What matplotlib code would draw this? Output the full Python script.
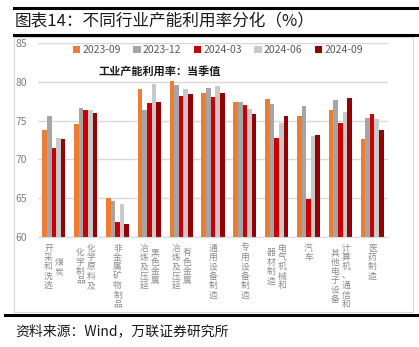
import matplotlib.pyplot as plt
import matplotlib.transforms as mtransforms
from matplotlib.patches import Rectangle
from matplotlib.lines import Line2D
import numpy as np

plt.rcParams['font.family'] = ['Noto Sans CJK SC', 'DejaVu Sans']

# Data
categories = [
    ["煤炭", "开采和洗选"],
    ["化学原料及", "化学制品"],
    ["非金属矿物制品"],
    ["黑色金属", "冶炼及压延"],
    ["有色金属", "冶炼及压延"],
    ["通用设备制造"],
    ["专用设备制造"],
    ["电气机械和", "器材制造"],
    ["汽车"],
    ["计算机、通信和", "其他电子设备"],
    ["医药制造"],
]
series_names = ["2023-09", "2023-12", "2024-03", "2024-06", "2024-09"]
v_2023_09 = [73.8, 74.6, 65.0, 79.1, 80.1, 78.6, 77.4, 77.8, 75.6, 76.4, 72.6]
v_2023_12 = [75.6, 76.6, 64.6, 76.4, 79.6, 79.2, 77.4, 77.1, 76.9, 77.6, 75.3]
v_2024_03 = [71.5, 76.4, 61.9, 77.3, 78.2, 78.1, 77.0, 72.7, 64.9, 74.7, 75.9]
v_2024_06 = [72.8, 76.4, 64.2, 79.7, 79.1, 79.4, 76.5, 74.7, 73.0, 76.1, 75.2]
v_2024_09 = [72.6, 76.0, 61.7, 77.4, 78.4, 78.6, 75.8, 75.6, 73.2, 77.9, 73.8]
values = [v_2023_09, v_2023_12, v_2024_03, v_2024_06, v_2024_09]
colors = ["#ED7D31", "#A5A5A5", "#CC0000", "#C9C9C9", "#960000"]

fig = plt.figure(figsize=(4.19, 3.47), dpi=100)
W, H = 419, 347

def fx(px):
    return px / W

def fy(py):
    return 1 - py / H

# Title and black rules
fig.add_artist(Line2D([fx(14), 1], [fy(8), fy(8)], color="black", lw=2.2))
fig.add_artist(Line2D([fx(14), 1], [fy(35), fy(35)], color="black", lw=2.2))
fig.add_artist(Line2D([fx(5), 1], [fy(315), fy(315)], color="black", lw=2.2))
fig.text(fx(15), fy(22), "图表14：不同行业产能利用率分化（%）", fontsize=12,
         va="center", ha="left", color="#1a1a1a")
fig.text(fx(15), fy(331), "资料来源：Wind，万联证券研究所", fontsize=10,
         va="center", ha="left", style="italic", color="#1a1a1a")

# chart frame
fig.add_artist(Rectangle((fx(14), fy(312)), fx(413) - fx(14), fy(37) - fy(312),
                         transform=fig.transFigure, fill=False, edgecolor="#D9D9D9", lw=0.8))

ax = fig.add_axes([fx(38), fy(237), fx(388) - fx(38), fy(43) - fy(237)])
x = np.arange(len(categories))
w = 0.145
for j, (name, vals, c) in enumerate(zip(series_names, values, colors)):
    ax.bar(x + (j - 2) * w, np.array(vals) - 60, width=w, bottom=60, color=c,
           label=name, zorder=3)

ax.set_ylim(60, 85)
ax.set_xlim(-0.5, len(categories) - 0.5)
ax.set_yticks([60, 65, 70, 75, 80, 85])
ax.set_xticks([])
ax.tick_params(axis="y", length=0, pad=8, labelsize=7.5, labelcolor="#7F7F7F")
ax.yaxis.grid(True, color="#D9D9D9", lw=1, zorder=0)
for s in ["top", "right", "left"]:
    ax.spines[s].set_visible(False)
ax.spines["bottom"].set_color("#D9D9D9")
ax.spines["bottom"].set_zorder(4)

ax.legend(loc="center", bbox_to_anchor=(0.514, 0.964), ncol=5, frameon=False,
          fontsize=7.5, labelcolor="#595959", handlelength=0.7, handleheight=0.7,
          handletextpad=0.2, columnspacing=1.2, borderaxespad=0)
ax.text(0.349, 0.856, "工业产能利用率：当季值", transform=ax.transAxes,
        ha="center", va="center", fontsize=8, fontweight="bold", color="#1a1a1a")

# vertical stacked category labels (first column on the right)
trans = mtransforms.blended_transform_factory(ax.transData, ax.transAxes)
px = 0.72
step = 9.4
for i, cols in enumerate(categories):
    n = max(len(c) for c in cols)
    ncol = len(cols)
    for k, col in enumerate(cols):
        dx = ((ncol - 1) / 2 - k) * 11
        shift = (n - len(col)) / 2 * step
        for m, ch in enumerate(col):
            dy = -(11 + shift + m * step)
            ax.annotate(ch, xy=(i, 0), xycoords=trans, xytext=(dx * px, dy * px),
                        textcoords="offset points", ha="center", va="center",
                        fontsize=6.3, color="#8C8C8C", annotation_clip=False)

fig.savefig("out.png", dpi=100)
